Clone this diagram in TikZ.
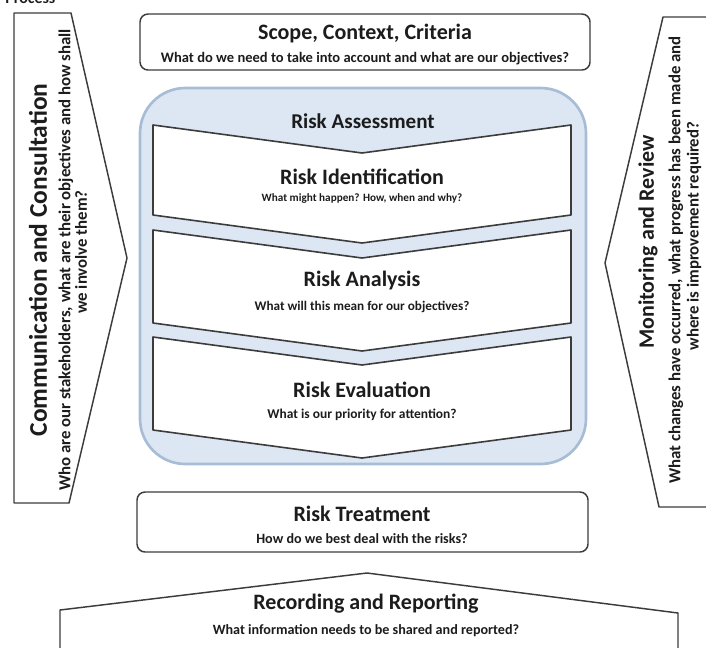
\documentclass[tikz,border=0pt]{standalone}
\usepackage{fontspec}
\setmainfont{Carlito}
\definecolor{linegray}{HTML}{3C3C3C}
\definecolor{ink}{HTML}{1C1C1C}
\definecolor{paleblue}{HTML}{DCE7F3}
\definecolor{blueedge}{HTML}{A7BDD6}
\tikzset{
  outline/.style={draw=linegray, line width=1.1pt, line join=round, fill=white},
  panel/.style={outline, rounded corners=6pt},
  arrowband/.style={outline, line width=1.2pt},
  txt/.style={text=ink, inner sep=0pt, align=center},
  fs/.style={font=\bfseries\fontsize{#1}{#1}\selectfont},
  head/.style={txt, fs=16.5},
  sidesub/.style={txt, fs=12.6, rotate=90},
}
\begin{document}
\begin{tikzpicture}[x=0.75pt, y=-0.75pt]
\useasboundingbox (0,0) rectangle (706,647);

% heading fragment at the top edge
\node[txt, fs=12, anchor=base west] (proc) at (5,3) {Process};

% side band: communication
\draw[outline] (14,13) -- (71,13) -- (127,258) -- (69,503) -- (14,503) -- cycle;
\node[txt, fs=19.1, rotate=90] (comm) at (38,260) {Communication and Consultation};
\node[sidesub] (commqa) at (66,260) {Who are our stakeholders, what are their objectives and how shall};
\node[sidesub] (commqb) at (81,252) {we involve them?};

% side band: monitoring
\draw[outline] (663,17) -- (730,17) -- (730,507) -- (659,507) -- (605,263) -- cycle;
\node[head, rotate=90] (mon) at (648,242) {Monitoring and Review};
\node[sidesub] (monqa) at (676,260) {What changes have occurred, what progress has been made and};
\node[sidesub] (monqb) at (694,236) {where is improvement required?};

% scope panel
\draw[panel] (140,14) rectangle (590,70);
\node[head] (scope) at (365,34) {Scope, Context, Criteria};
\node[txt, fs=10.9] (scopeq) at (365,59) {What do we need to take into account and what are our objectives?};

% assessment container
\draw[draw=blueedge, fill=paleblue, line width=2pt, rounded corners=34pt] (140,88) rectangle (586,464);
\node[txt, fs=15.8] (assess) at (363,121) {Risk Assessment};

% identification band
\draw[arrowband] (153,125) -- (362,153) -- (571,125) -- (571,215) -- (362,243) -- (153,215) -- cycle;
\node[head] (ident) at (362,177) {Risk Identification};
\node[txt, fs=8.4] (identq) at (362,199) {What might happen? How, when and why?};

% analysis band
\draw[arrowband] (153,230) -- (362,258) -- (571,230) -- (571,323) -- (362,351) -- (153,323) -- cycle;
\node[head] (anal) at (362,281) {Risk Analysis};
\node[txt, fs=9.9] (analq) at (362,307) {What will this mean for our objectives?};

% evaluation band
\draw[arrowband] (153,337) -- (362,365) -- (571,337) -- (571,430) -- (362,458) -- (153,430) -- cycle;
\node[head] (evalu) at (362,390) {Risk Evaluation};
\node[txt, fs=10.1] (evaluq) at (362,415) {What is our priority for attention?};

% treatment panel
\draw[panel] (137,492) rectangle (588,552);
\node[head] (treat) at (362,514) {Risk Treatment};
\node[txt, fs=10.6] (treatq) at (362,539) {How do we best deal with the risks?};

% recording band
\draw[outline] (60,660) -- (60,610) -- (367,573) -- (678,613) -- (678,660);
\node[head] (rec) at (366,604) {Recording and Reporting};
\node[txt, fs=10.6] (recq) at (366,631) {What information needs to be shared and reported?};
\end{tikzpicture}
\end{document}
